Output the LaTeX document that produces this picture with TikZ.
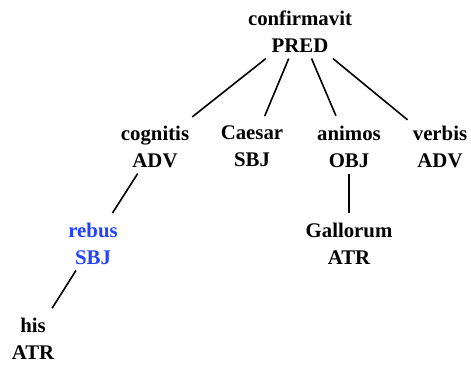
\documentclass[tikz,border=0pt]{standalone}
\usepackage{fontspec}
\setmainfont{Liberation Serif}
\definecolor{hilite}{RGB}{35,65,255}
\begin{document}
\begin{tikzpicture}[x=1pt,y=-1pt,
  tnode/.style={align=center,inner xsep=2pt,inner ysep=6pt,
    font=\fontsize{20.8}{27}\selectfont\bfseries},
  edge/.style={line width=1.6pt,shorten >=4pt}]
\useasboundingbox (0,0) rectangle (471,365);
\node[tnode] (conf) at (300,31.5) {confirmavit\\PRED};
\node[tnode] (cogn) at (155,146.5) {cognitis\\ADV};
\node[tnode] (caes) at (252,146.5) {Caesar\\SBJ};
\node[tnode] (anim) at (349,146.5) {animos\\OBJ};
\node[tnode] (verb) at (440,146.5) {verbis\\ADV};
\node[tnode,text=hilite] (rebu) at (93,243.5) {rebus\\SBJ};
\node[tnode] (gall) at (349,243.5) {Gallorum\\ATR};
\node[tnode] (his) at (33,338.5) {his\\ATR};
\draw[edge] (conf) -- (cogn);
\draw[edge] (conf) -- (caes);
\draw[edge] (conf) -- (anim);
\draw[edge] (conf) -- (verb);
\draw[edge] (cogn) -- (rebu);
\draw[edge] (anim) -- (gall);
\draw[edge] (rebu) -- (his);
\end{tikzpicture}
\end{document}
